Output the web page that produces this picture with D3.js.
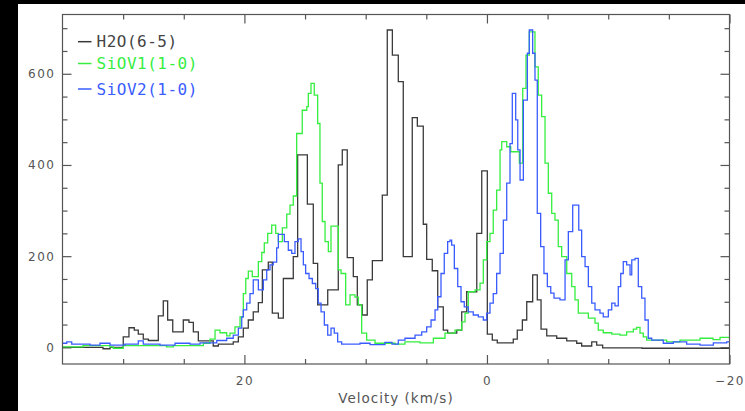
<!DOCTYPE html>
<html><head><meta charset="utf-8">
<script src="https://cdn.jsdelivr.net/npm/d3@7"></script>
<style>html,body{margin:0;padding:0;background:#fff;}svg{display:block;}</style>
</head><body>
<svg id="c" width="745" height="411"></svg>
<script>
// ---- data (velocity in km/s at the start of each step, intensity) ----
const xDomain = [35, -20];
const yDomain = [-36.5, 730];
const xMajorTicks = [20, 0, -20];
const xMinorTicks = [30, 25, 15, 10, 5, -5, -10, -15];
const yMajorTicks = [0, 200, 400, 600];
const yMinorTicks = [-50, 50, 100, 150, 250, 300, 350, 450, 500, 550, 650, 700];
const seriesNames = ["H2O(6-5)", "SiOV1(1-0)", "SiOV2(1-0)"];
const seriesColors = ["#3a3a3a", "#35ee3f", "#3a5cff"];

const h2oVel = [35.0, 31.66, 31.08, 29.99, 29.52, 29.08, 28.75, 28.34, 27.92, 27.10, 26.69, 26.33, 25.91, 25.04, 24.57, 24.21, 23.80, 22.57, 22.15, 20.92, 20.50, 20.09, 19.68, 19.27, 18.85, 18.52, 18.03, 17.70, 17.20, 16.79, 15.97, 15.61, 14.81, 14.32, 13.96, 13.13, 12.26, 11.93, 11.52, 11.02, 10.69, 10.28, 9.87, 9.45, 8.63, 8.22, 7.80, 7.31, 6.90, 6.16, 5.74, 5.25, 4.97, 4.51, 4.06, 3.60, 3.24, 2.49, 2.08, 1.67, 0.84, 0.43, -0.03, -0.44, -0.85, -2.17, -2.50, -2.92, -3.28, -3.77, -4.15, -4.46, -4.93, -5.75, -6.58, -7.40, -7.81, -8.64, -9.05, -9.54, -12.79];
const h2oInt = [0, -3, 0, 23, 43, 38, 29, 18, 15, 69, 102, 60, 34, 60, 55, 34, 14, 3, 7, 12, 23, 42, 60, 78, 98, 170, 187, 75, 64, 151, 199, 422, 314, 184, 93, 126, 400, 433, 197, 155, 93, 71, 148, 190, 334, 696, 641, 583, 199, 504, 485, 270, 193, 168, 89, 38, 31, 38, 78, 122, 250, 387, 29, 16, 10, 18, 38, 60, 100, 159, 104, 40, 25, 20, 14, 9, 3, 12, 5, -1, -2];

const sio1Vel = [35.0, 33.31, 31.08, 30.81, 29.99, 26.41, 25.86, 23.39, 22.84, 22.42, 22.01, 21.46, 21.19, 20.78, 20.36, 20.09, 19.89, 19.68, 19.35, 18.85, 18.57, 18.36, 18.08, 17.75, 17.42, 17.20, 16.87, 16.51, 16.24, 15.97, 15.69, 15.23, 14.86, 14.73, 14.51, 14.24, 13.96, 13.77, 13.58, 13.35, 13.08, 12.86, 12.26, 12.03, 11.65, 11.29, 10.88, 10.61, 10.33, 9.92, 9.23, 7.58, 6.76, 5.52, 4.42, 3.46, 2.63, 2.08, 1.81, 1.54, 0.98, 0.57, 0.30, 0.02, -0.25, -0.52, -0.80, -1.08, -1.22, -1.63, -1.96, -2.67, -2.95, -3.22, -3.49, -3.96, -4.23, -4.51, -4.79, -5.06, -5.34, -5.61, -5.88, -6.16, -6.58, -6.99, -7.26, -7.53, -8.36, -8.91, -9.18, -9.59, -10.29, -10.97, -11.52, -12.07, -12.35, -12.62, -12.89, -13.17, -14.82, -15.92, -17.57, -18.64, -19.22];
const sio1Int = [1, 4, 1, -2, 4, 1, 4, 9, 18, 38, 32, 25, 31, 45, 67, 118, 151, 167, 155, 188, 208, 229, 250, 268, 250, 232, 262, 292, 312, 332, 469, 520, 528, 557, 579, 553, 491, 360, 276, 232, 210, 266, 170, 162, 93, 115, 110, 93, 31, 16, 9, 7, 12, 10, 20, 31, 38, 56, 75, 122, 126, 141, 192, 232, 250, 301, 345, 433, 451, 440, 429, 404, 568, 641, 692, 615, 553, 506, 404, 338, 294, 279, 221, 199, 162, 133, 104, 75, 64, 53, 38, 32, 29, 27, 34, 40, 44, 31, 23, 16, 12, 16, 20, 17, 22];

const sio2Vel = [35.0, 34.65, 34.24, 32.73, 31.91, 31.08, 29.85, 28.75, 28.34, 26.96, 25.72, 24.49, 23.66, 22.28, 21.46, 20.92, 20.50, 20.22, 20.09, 19.81, 19.54, 19.27, 18.85, 18.44, 18.16, 17.89, 17.62, 17.34, 17.20, 16.71, 16.38, 16.10, 15.83, 15.56, 15.33, 15.14, 14.95, 14.67, 14.40, 14.12, 13.91, 13.68, 13.41, 13.13, 12.86, 12.59, 12.31, 11.98, 10.47, 9.64, 8.41, 7.83, 7.31, 6.76, 5.93, 5.38, 4.97, 4.61, 4.28, 4.06, 3.79, 3.52, 3.24, 3.05, 2.91, 2.69, 2.41, 2.14, 1.87, 1.54, 1.13, 0.71, 0.30, 0.02, -0.25, -0.52, -0.80, -1.08, -1.35, -1.63, -1.90, -2.09, -2.37, -2.54, -2.73, -3.00, -3.33, -3.49, -3.77, -3.96, -4.15, -4.43, -4.70, -4.98, -5.26, -5.53, -6.02, -6.44, -6.71, -7.07, -7.57, -7.81, -8.09, -8.36, -8.64, -8.91, -9.32, -9.59, -10.01, -10.29, -10.56, -10.83, -11.03, -11.24, -11.52, -11.80, -11.94, -12.21, -12.48, -12.76, -13.03, -13.30, -13.59, -14.54, -15.37, -16.47, -17.57, -18.67, -19.77];
const sio2Int = [9, 12, 7, 5, 9, 5, 7, 14, 7, 5, 9, 7, 10, 15, 20, 27, 42, 67, 82, 97, 118, 148, 126, 148, 170, 181, 187, 218, 248, 232, 213, 206, 232, 238, 210, 181, 162, 151, 140, 129, 97, 78, 49, 27, 42, 31, 12, 7, 9, 6, 11, 7, 16, 20, 27, 34, 45, 60, 82, 111, 162, 206, 232, 235, 224, 173, 133, 100, 89, 78, 71, 67, 60, 75, 97, 118, 162, 206, 279, 360, 447, 557, 499, 433, 367, 542, 645, 696, 645, 586, 294, 221, 162, 133, 119, 108, 104, 192, 254, 312, 257, 199, 177, 133, 97, 82, 75, 67, 82, 97, 91, 133, 162, 188, 181, 159, 192, 195, 133, 108, 60, 20, 16, 9, 12, 7, 5, 10, 12];

// ---- layout ----
const W = 745, H = 411;
const L = 62.5, R = 729.5, T = 14.5, B = 364;
const svg = d3.select('#c');
svg.append('rect').attr('width', W).attr('height', H).attr('fill', '#fff');
svg.append('rect').attr('x', 0).attr('y', 0).attr('width', 18).attr('height', H).attr('fill', '#000');
svg.append('rect').attr('x', 0).attr('y', 0).attr('width', W).attr('height', 4).attr('fill', '#000');

const x = d3.scaleLinear().domain(xDomain).range([L, R]);
const y = d3.scaleLinear().domain(yDomain).range([B, T]);

const axisColor = '#555';
function styleAxis(g, labels) {
  g.select('.domain').remove();
  g.selectAll('line').attr('stroke', axisColor).attr('stroke-width', 1.2);
  g.selectAll('text').attr('fill', axisColor)
    .style('font-family', '"DejaVu Sans", sans-serif')
    .style('font-size', '12px').style('letter-spacing', '1.5px');
  if (!labels) g.selectAll('text').remove();
}
// bottom
svg.append('g').attr('transform', `translate(0,${B})`)
  .call(d3.axisBottom(x).tickValues(xMajorTicks).tickSize(-9).tickPadding(12).tickFormat(d3.format('d')))
  .call(g => styleAxis(g, true));
svg.append('g').attr('transform', `translate(0,${B})`)
  .call(d3.axisBottom(x).tickValues(xMinorTicks).tickSize(-5))
  .call(g => styleAxis(g, false));
// top
svg.append('g').attr('transform', `translate(0,${T})`)
  .call(d3.axisTop(x).tickValues(xMajorTicks).tickSize(-9))
  .call(g => styleAxis(g, false));
svg.append('g').attr('transform', `translate(0,${T})`)
  .call(d3.axisTop(x).tickValues(xMinorTicks).tickSize(-5))
  .call(g => styleAxis(g, false));
// left
svg.append('g').attr('transform', `translate(${L},0)`)
  .call(d3.axisLeft(y).tickValues(yMajorTicks).tickSize(-9).tickPadding(7).tickFormat(d3.format('d')))
  .call(g => styleAxis(g, true));
svg.append('g').attr('transform', `translate(${L},0)`)
  .call(d3.axisLeft(y).tickValues(yMinorTicks.filter(v => v > yDomain[0] && v < yDomain[1])).tickSize(-5))
  .call(g => styleAxis(g, false));
// right
svg.append('g').attr('transform', `translate(${R},0)`)
  .call(d3.axisRight(y).tickValues(yMajorTicks).tickSize(-9))
  .call(g => styleAxis(g, false));
svg.append('g').attr('transform', `translate(${R},0)`)
  .call(d3.axisRight(y).tickValues(yMinorTicks.filter(v => v > yDomain[0] && v < yDomain[1])).tickSize(-5))
  .call(g => styleAxis(g, false));

// clip
svg.append('clipPath').attr('id', 'clip').append('rect')
  .attr('x', L).attr('y', T).attr('width', R - L).attr('height', B - T);

function pts(vel, val) {
  const n = Math.min(vel.length, val.length);
  const p = [];
  for (let i = 0; i < n; i++) p.push([vel[i], val[i]]);
  p.push([xDomain[1], val[n - 1]]);
  return p;
}
const line = d3.line().x(d => x(d[0])).y(d => y(d[1])).curve(d3.curveStepAfter);
const data = [pts(h2oVel, h2oInt), pts(sio1Vel, sio1Int), pts(sio2Vel, sio2Int)];
const plot = svg.append('g').attr('clip-path', 'url(#clip)');
data.forEach((d, i) => {
  plot.append('path').attr('d', line(d)).attr('fill', 'none')
    .attr('stroke', seriesColors[i]).attr('stroke-width', 1.3)
    .attr('stroke-linejoin', 'miter');
});

// frame
svg.append('rect').attr('x', L).attr('y', T).attr('width', R - L).attr('height', B - T)
  .attr('fill', 'none').attr('stroke', axisColor).attr('stroke-width', 1.2);

// legend
const legY = [41.7, 63.5, 89];
seriesNames.forEach((name, i) => {
  svg.append('line').attr('x1', 78).attr('x2', 91.5).attr('y1', legY[i]).attr('y2', legY[i])
    .attr('stroke', seriesColors[i]).attr('stroke-width', 1.5);
  svg.append('text').attr('x', 96.5).attr('y', legY[i]).attr('dy', '0.36em')
    .attr('fill', i === 0 ? '#444' : seriesColors[i])
    .style('font-family', '"DejaVu Sans Mono", monospace')
    .style('font-size', '16px').style('letter-spacing', '0.5px')
    .text(name);
});

// axis title
svg.append('text').attr('x', (L + R) / 2).attr('y', 398).attr('dy', '0.36em')
  .attr('text-anchor', 'middle').attr('fill', axisColor)
  .style('font-family', '"DejaVu Sans", sans-serif')
  .style('font-size', '13.5px').style('letter-spacing', '1px')
  .text('Velocity (km/s)');
</script>
</body></html>
